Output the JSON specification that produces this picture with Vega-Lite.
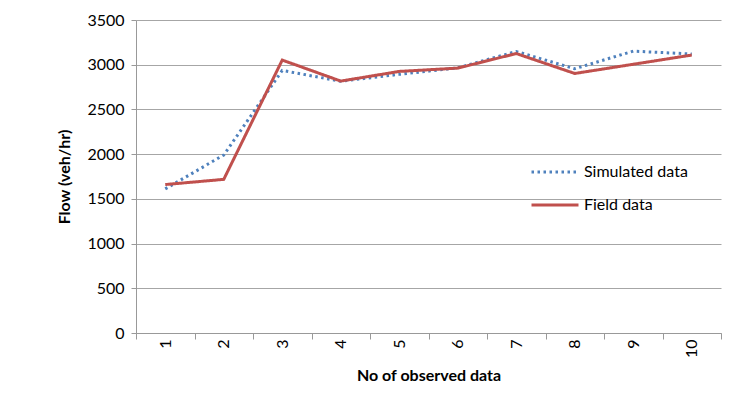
{
  "$schema": "https://vega.github.io/schema/vega-lite/v6.json",
  "width": 585,
  "height": 313,
  "autosize": "none",
  "padding": {"left": 136, "top": 20, "right": 22, "bottom": 82},
  "background": "white",
  "config": {
    "view": {"stroke": null},
    "font": "Lato",
    "axis": {"labelFont": "Lato", "titleFont": "Lato", "labelColor": "#000", "titleColor": "#000", "domainColor": "#999", "tickColor": "#999", "gridColor": "#a6a6a6", "gridWidth": 1}
  },
  "data": {
    "values": [
      {"obs": "1", "series": "Simulated data", "flow": 1612},
      {"obs": "2", "series": "Simulated data", "flow": 1990},
      {"obs": "3", "series": "Simulated data", "flow": 2936},
      {"obs": "4", "series": "Simulated data", "flow": 2815},
      {"obs": "5", "series": "Simulated data", "flow": 2892},
      {"obs": "6", "series": "Simulated data", "flow": 2965},
      {"obs": "7", "series": "Simulated data", "flow": 3148},
      {"obs": "8", "series": "Simulated data", "flow": 2955},
      {"obs": "9", "series": "Simulated data", "flow": 3152},
      {"obs": "10", "series": "Simulated data", "flow": 3120},
      {"obs": "1", "series": "Field data", "flow": 1660},
      {"obs": "2", "series": "Field data", "flow": 1718},
      {"obs": "3", "series": "Field data", "flow": 3052},
      {"obs": "4", "series": "Field data", "flow": 2817},
      {"obs": "5", "series": "Field data", "flow": 2925},
      {"obs": "6", "series": "Field data", "flow": 2962},
      {"obs": "7", "series": "Field data", "flow": 3125},
      {"obs": "8", "series": "Field data", "flow": 2902},
      {"obs": "9", "series": "Field data", "flow": 3005},
      {"obs": "10", "series": "Field data", "flow": 3108}
    ]
  },
  "mark": {"type": "line", "strokeWidth": 3},
  "encoding": {
    "x": {
      "field": "obs", "type": "ordinal", "sort": null, "bandPosition": 0.5,
      "scale": {"type": "band", "paddingInner": 0, "paddingOuter": 0},
      "axis": {"title": "No of observed data", "titleFontSize": 16, "titleFontWeight": "bold", "titlePadding": 10, "labelAngle": -90, "labelFontSize": 16, "labelPadding": 0, "tickBand": "extent", "tickSize": 6, "grid": false}
    },
    "y": {
      "field": "flow", "type": "quantitative",
      "scale": {"domain": [0, 3500], "nice": false},
      "axis": {"title": "Flow (veh/hr)", "titleFontSize": 16, "titleFontWeight": "bold", "titlePadding": 14, "format": "d", "values": [0, 500, 1000, 1500, 2000, 2500, 3000, 3500], "labelFontSize": 16, "labelPadding": 7, "tickSize": 5, "grid": true}
    },
    "color": {
      "field": "series", "type": "nominal",
      "scale": {"domain": ["Simulated data", "Field data"], "range": ["#4F81BD", "#C0504D"]},
      "legend": {"title": null, "orient": "none", "legendX": 394, "legendY": 127, "symbolType": "stroke", "symbolSize": 2209, "symbolStrokeWidth": 3, "labelFontSize": 16, "labelOffset": 4, "rowPadding": -9, "labelColor": "#000"}
    },
    "strokeDash": {
      "field": "series", "type": "nominal",
      "scale": {"domain": ["Simulated data", "Field data"], "range": [[2.5, 3.5], [1, 0]]},
      "legend": {"title": null, "orient": "none", "legendX": 394, "legendY": 127, "symbolType": "stroke", "symbolSize": 2209, "symbolStrokeWidth": 3, "labelFontSize": 16, "labelOffset": 4, "rowPadding": -9, "labelColor": "#000"}
    }
  }
}
